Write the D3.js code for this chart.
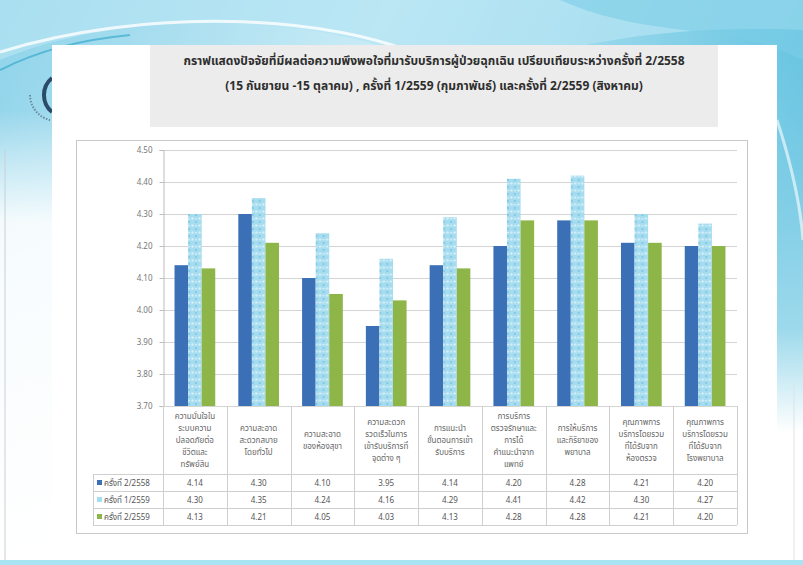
<!DOCTYPE html>
<html><head><meta charset="utf-8">
<script src="https://cdn.jsdelivr.net/npm/d3@7"></script>
<style>
html,body{margin:0;padding:0;background:#fff;}
svg{display:block;}
text{font-family:"Noto Sans Thai","Noto Sans","DejaVu Sans",sans-serif;}
</style></head>
<body>
<div id="chart"></div>
<script>
const titleLines = [
  "กราฟแสดงปัจจัยที่มีผลต่อความพึงพอใจที่มารับบริการผู้ป่วยฉุกเฉิน  เปรียบเทียบระหว่างครั้งที่ 2/2558",
  "(15 กันยายน -15 ตุลาคม) , ครั้งที่ 1/2559 (กุมภาพันธ์) และครั้งที่ 2/2559 (สิงหาคม)"
];
const categories = [
  "ความมั่นใจใน\nระบบความ\nปลอดภัยต่อ\nชีวิตและ\nทรัพย์สิน",
  "ความสะอาด\nสะดวกสบาย\nโดยทั่วไป",
  "ความสะอาด\nของห้องสุขา",
  "ความสะดวก\nรวดเร็วในการ\nเข้ารับบริการที่\nจุดต่าง ๆ",
  "การแนะนำ\nขั้นตอนการเข้า\nรับบริการ",
  "การบริการ\nตรวจรักษาและ\nการได้\nคำแนะนำจาก\nแพทย์",
  "การให้บริการ\nและกิริยาของ\nพยาบาล",
  "คุณภาพการ\nบริการโดยรวม\nที่ได้รับจาก\nห้องตรวจ",
  "คุณภาพการ\nบริการโดยรวม\nที่ได้รับจาก\nโรงพยาบาล"
];
const seriesNames = ["ครั้งที่ 2/2558", "ครั้งที่ 1/2559", "ครั้งที่ 2/2559"];
const round1 = [4.14, 4.30, 4.10, 3.95, 4.14, 4.20, 4.28, 4.21, 4.20];
const round2 = [4.30, 4.35, 4.24, 4.16, 4.29, 4.41, 4.42, 4.30, 4.27];
const round3 = [4.13, 4.21, 4.05, 4.03, 4.13, 4.28, 4.28, 4.21, 4.20];
const yTicks = [3.70, 3.80, 3.90, 4.00, 4.10, 4.20, 4.30, 4.40, 4.50];

const seriesValues = [round1, round2, round3];
const W = 803, H = 565;
const svg = d3.select("#chart").append("svg").attr("width", W).attr("height", H);
const defs = svg.append("defs");

// background gradient
const bg = defs.append("linearGradient").attr("id","bg").attr("x1","0").attr("y1","0").attr("x2","1").attr("y2","0.3");
bg.append("stop").attr("offset","0").attr("stop-color","#8fd3ea");
bg.append("stop").attr("offset","0.45").attr("stop-color","#c9ecf6");
bg.append("stop").attr("offset","1").attr("stop-color","#5cc0df");
svg.append("rect").attr("width",W).attr("height",H).attr("fill","url(#bg)");
// waves
svg.append("path").attr("d","M0,60 C120,10 300,10 420,60 C500,90 560,20 803,30 L803,0 L0,0 Z").attr("fill","#b5e4f3").attr("opacity",0.7);
svg.append("path").attr("d","M0,52 C140,8 330,12 430,60").attr("fill","none").attr("stroke","#ffffff").attr("stroke-width",3).attr("opacity",0.8);
svg.append("path").attr("d","M560,0 C650,40 720,20 803,60 L803,0 Z").attr("fill","#7ccde6").attr("opacity",0.6);
svg.append("path").attr("d","M0,70 C40,50 80,40 130,35").attr("fill","none").attr("stroke","#2aa3c8").attr("stroke-width",2).attr("opacity",0.6);
svg.append("path").attr("d","M777,120 C790,160 800,200 803,240").attr("fill","none").attr("stroke","#ffffff").attr("stroke-width",3).attr("opacity",0.6);
// lower white area (left fades to white)
const fadeL = defs.append("linearGradient").attr("id","fadeL").attr("x1","0").attr("y1","0").attr("x2","0").attr("y2","1");
fadeL.append("stop").attr("offset","0").attr("stop-color","#ffffff").attr("stop-opacity",0);
fadeL.append("stop").attr("offset","0.25").attr("stop-color","#ffffff").attr("stop-opacity",0.9);
fadeL.append("stop").attr("offset","1").attr("stop-color","#ffffff").attr("stop-opacity",1);
svg.append("rect").attr("x",0).attr("y",110).attr("width",52).attr("height",452).attr("fill","url(#fadeL)");
const fadeR = defs.append("linearGradient").attr("id","fadeR").attr("x1","0").attr("y1","0").attr("x2","0").attr("y2","1");
fadeR.append("stop").attr("offset","0").attr("stop-color","#ffffff").attr("stop-opacity",0);
fadeR.append("stop").attr("offset","0.55").attr("stop-color","#ffffff").attr("stop-opacity",0.4);
fadeR.append("stop").attr("offset","0.75").attr("stop-color","#ffffff").attr("stop-opacity",1);
svg.append("rect").attr("x",777).attr("y",45).attr("width",26).attr("height",517).attr("fill","url(#fadeR)");
svg.append("line").attr("x1",5).attr("x2",5).attr("y1",150).attr("y2",560).attr("stroke","#c8d0d4");
svg.append("line").attr("x1",794).attr("x2",794).attr("y1",380).attr("y2",560).attr("stroke","#dde3e6");
svg.append("rect").attr("x",0).attr("y",560).attr("width",W).attr("height",5).attr("fill","#a8e4f2");
// logo hint
svg.append("path").attr("d","M52,78 A22,22 0 0 0 52,112").attr("fill","none").attr("stroke","#2b4b6a").attr("stroke-width",4);
svg.append("path").attr("d","M30,95 A26,26 0 0 0 50,120").attr("fill","none").attr("stroke","#6b8aa0").attr("stroke-width",2).attr("stroke-dasharray","1.5,1.5");

// white panel
svg.append("rect").attr("x",52).attr("y",45).attr("width",725).attr("height",515).attr("fill","#ffffff");

// title box
svg.append("rect").attr("x",150).attr("y",45).attr("width",568).attr("height",82).attr("fill","#ececec");
svg.selectAll("text.title").data(titleLines).join("text")
  .attr("class","title").attr("x",434).attr("y",(d,i)=>65+i*25)
  .attr("text-anchor","middle").attr("font-size",12).attr("font-weight","bold")
  .attr("fill","#2e2e2e").text(d=>d);

// chart frame
svg.append("rect").attr("x",76.5).attr("y",140.5).attr("width",671).attr("height",393).attr("fill","#fff").attr("stroke","#c8c8c8");

const plotL = 163, plotR = 737, plotT = 150, plotB = 406;
const y = d3.scaleLinear().domain([3.7, 4.5]).range([plotB, plotT]);
const x0 = d3.scaleBand().domain(categories).range([plotL, plotR]).paddingInner(0).paddingOuter(0);
const x1 = d3.scaleBand().domain(seriesNames).range([0, x0.bandwidth()]).paddingInner(0).paddingOuter(0.85);

// gridlines
svg.append("g").selectAll("line").data(yTicks).join("line")
  .attr("x1",plotL).attr("x2",plotR).attr("y1",d=>Math.round(y(d))+0.5).attr("y2",d=>Math.round(y(d))+0.5)
  .attr("stroke","#d4d4d4");
// y axis
const yAxis = d3.axisLeft(y).tickValues(yTicks).tickFormat(d3.format(".2f")).tickSize(4).tickPadding(7);
const ya = svg.append("g").attr("transform",`translate(${plotL+0.5},0)`).call(yAxis);
ya.select(".domain").attr("stroke","#bdbdbd");
ya.selectAll(".tick line").attr("stroke","#bdbdbd");
ya.selectAll(".tick text").attr("fill","#777").attr("font-size",8).attr("font-family","'DejaVu Sans',sans-serif");

// pattern for series 2
const pat = defs.append("pattern").attr("id","dots").attr("width",7).attr("height",7).attr("patternUnits","userSpaceOnUse");
pat.append("rect").attr("width",7).attr("height",7).attr("fill","#a6dcef");
pat.append("circle").attr("cx",1.5).attr("cy",1.5).attr("r",1.2).attr("fill","#d6f0f9");
pat.append("circle").attr("cx",5).attr("cy",5).attr("r",1.1).attr("fill","#7fc6e0");
pat.append("circle").attr("cx",5).attr("cy",1.8).attr("r",0.8).attr("fill","#e6f6fb");
const fills = ["#3b70b7", "url(#dots)", "#8db548"];
const keyFills = ["#3b70b7", "#a6dcef", "#8db548"];

const groups = svg.append("g").selectAll("g").data(categories).join("g")
  .attr("transform",d=>`translate(${x0(d)},0)`);
groups.selectAll("rect").data((d,i)=>seriesNames.map((s,k)=>({s, k, v: seriesValues[k][i]}))).join("rect")
  .attr("x",d=>x1(d.s)).attr("width",x1.bandwidth())
  .attr("y",d=>y(d.v)).attr("height",d=>plotB - y(d.v))
  .attr("fill",d=>fills[d.k]);

// data table
const rowTop = 474, rowH = 17, keyL = 93;
const tbl = svg.append("g").attr("stroke","#cfcfcf").attr("stroke-width",1);
const bounds = categories.map(c=>x0(c)).concat([plotR]);
tbl.selectAll("line.v").data(bounds).join("line").attr("class","v")
  .attr("x1",d=>Math.round(d)+0.5).attr("x2",d=>Math.round(d)+0.5)
  .attr("y1",plotB).attr("y2",rowTop+3*rowH);
tbl.selectAll("line.h").data([0,1,2,3]).join("line").attr("class","h")
  .attr("x1",keyL).attr("x2",plotR).attr("y1",d=>rowTop+d*rowH+0.5).attr("y2",d=>rowTop+d*rowH+0.5);
tbl.append("line").attr("x1",keyL+0.5).attr("x2",keyL+0.5).attr("y1",rowTop).attr("y2",rowTop+3*rowH);

// category labels
groups.each(function(d){
  const lines = d.split("\n");
  const lh = 12;
  const cy = (plotB + rowTop)/2;
  const start = cy - (lines.length-1)*lh/2 + 3;
  d3.select(this).append("text").attr("text-anchor","middle").attr("font-size",8).attr("fill","#666")
    .selectAll("tspan").data(lines).join("tspan")
    .attr("x",x0.bandwidth()/2).attr("y",(l,i)=>start+i*lh).text(l=>l);
});

// row labels and values
const rows = svg.append("g").selectAll("g").data(seriesNames).join("g")
  .attr("transform",(d,i)=>`translate(0,${rowTop+i*rowH})`);
rows.append("rect").attr("x",keyL+4).attr("y",rowH/2-2.5).attr("width",5).attr("height",5).attr("fill",(d,i)=>keyFills[i]);
rows.append("text").attr("x",keyL+11).attr("y",rowH/2+3).attr("font-size",8).attr("fill","#555").text(d=>d);
rows.each(function(s,k){
  d3.select(this).selectAll("text.val").data(seriesValues[k]).join("text").attr("class","val")
    .attr("x",(v,i)=>x0(categories[i])+x0.bandwidth()/2).attr("y",rowH/2+3)
    .attr("text-anchor","middle").attr("font-size",8).attr("fill","#555")
    .attr("font-family","'DejaVu Sans',sans-serif")
    .text(v=>v.toFixed(2));
});
</script>
</body></html>
